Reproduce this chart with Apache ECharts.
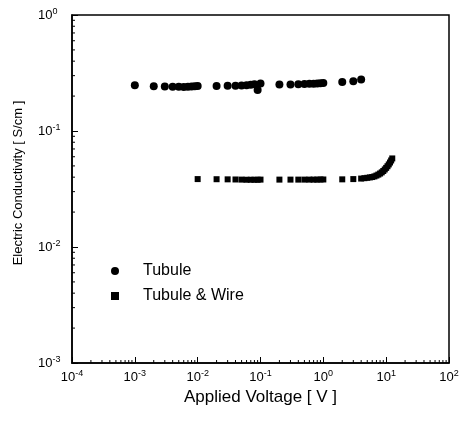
<!DOCTYPE html>
<html>
<head>
<meta charset="utf-8">
<script src="https://cdn.jsdelivr.net/npm/echarts@6/dist/echarts.min.js"></script>
<style>
  html, body { margin: 0; padding: 0; background: #fff; }
  #chart { width: 462px; height: 422px; }
</style>
</head>
<body>
<div id="chart"></div>
<script>
// Tubule (circles)
const tubuleV = [0.001, 0.002, 0.003, 0.004, 0.005, 0.006, 0.007, 0.008, 0.009, 0.01,
  0.02, 0.03, 0.04, 0.05, 0.06, 0.07, 0.08, 0.09, 0.1,
  0.2, 0.3, 0.4, 0.5, 0.6, 0.7, 0.8, 0.9, 1,
  2, 3, 4]
const tubuleC = [0.248, 0.243, 0.242, 0.241, 0.241, 0.240, 0.241, 0.242, 0.243, 0.244,
  0.244, 0.245, 0.246, 0.247, 0.248, 0.250, 0.253, 0.226, 0.257,
  0.252, 0.252, 0.253, 0.254, 0.255, 0.256, 0.257, 0.258, 0.259,
  0.265, 0.268, 0.278]

// Tubule & Wire (squares)
const wireV = [0.01, 0.02, 0.03, 0.04, 0.05, 0.06, 0.07, 0.08, 0.09, 0.1,
  0.2, 0.3, 0.4, 0.5, 0.6, 0.7, 0.8, 0.9, 1,
  2, 3, 4, 4.5, 5, 5.5, 6, 6.5, 7, 7.5, 8, 8.5, 9, 9.5, 10, 10.5, 11, 11.5, 12, 12.5]
const wireC = [0.0385, 0.0384, 0.0383, 0.0382, 0.0381, 0.0380, 0.0380, 0.0380, 0.0380, 0.0381,
  0.0381, 0.0381, 0.0381, 0.0381, 0.0381, 0.0381, 0.0381, 0.0382, 0.0382,
  0.0383, 0.0385, 0.0389, 0.0392, 0.0395, 0.0398, 0.0401, 0.0406, 0.0413, 0.0421, 0.0430,
  0.0440, 0.0452, 0.0466, 0.0481, 0.0497, 0.0515, 0.0535, 0.0557, 0.0580]

const xMin = 1e-4, xMax = 1e2
const yMin = 1e-3, yMax = 1

// minor tick positions 2..9 in each decade
const xMinor = []
for (let d = -4; d < 2; d++) for (let k = 2; k <= 9; k++) xMinor.push(k * Math.pow(10, d))
const yMinor = []
for (let d = -3; d < 0; d++) for (let k = 2; k <= 9; k++) yMinor.push(k * Math.pow(10, d))

const font = 'Liberation Sans, Arial, Helvetica, sans-serif'

const powLabel = v => '{b|10}{s|' + Math.round(Math.log10(v)) + '}'
const powRich = {
  b: { fontSize: 13, fontFamily: font, color: '#000', lineHeight: 16 },
  s: { fontSize: 9, fontFamily: font, color: '#000', verticalAlign: 'top' }
}

const chart = echarts.init(document.getElementById('chart'), null, { renderer: 'canvas' })

chart.setOption({
  animation: false,
  backgroundColor: '#fff',
  grid: {
    left: 72, right: 13, top: 15, bottom: 59,
    show: true, borderColor: '#000', borderWidth: 1.5
  },
  xAxis: {
    type: 'log', logBase: 10, min: xMin, max: xMax,
    name: 'Applied Voltage [ V ]',
    nameLocation: 'middle', nameGap: 19,
    nameTextStyle: { fontSize: 17, fontFamily: font, color: '#000' },
    axisLine: { show: true, onZero: false, lineStyle: { color: '#000', width: 1.5 } },
    axisTick: { show: true, inside: true, length: 6, lineStyle: { color: '#000' } },
    axisLabel: { formatter: powLabel, rich: powRich, margin: 6 },
    splitLine: { show: false }
  },
  yAxis: {
    type: 'log', logBase: 10, min: yMin, max: yMax,
    name: 'Electric Conductivity [ S/cm ]',
    nameLocation: 'middle', nameGap: 47,
    nameTextStyle: { fontSize: 13, fontFamily: font, color: '#000', padding: [0, 0, 0, 12] },
    axisLine: { show: true, onZero: false, lineStyle: { color: '#000', width: 1.5 } },
    axisTick: { show: true, inside: true, length: 6, lineStyle: { color: '#000' } },
    axisLabel: { formatter: powLabel, rich: powRich, margin: 34, align: 'left' },
    splitLine: { show: false }
  },
  legend: {
    orient: 'vertical',
    left: 106, top: 258,
    itemWidth: 8, itemHeight: 8, itemGap: 9,
    textStyle: { fontSize: 16, fontFamily: font, color: '#000', padding: [0, 0, 0, 19] },
    data: [
      { name: 'Tubule', icon: 'circle' },
      { name: 'Tubule & Wire', icon: 'rect' }
    ]
  },
  series: [
    {
      name: 'Tubule', type: 'scatter', symbol: 'circle', symbolSize: 8,
      itemStyle: { color: '#000', opacity: 1 },
      data: tubuleV.map((v, i) => [v, tubuleC[i]])
    },
    {
      name: 'Tubule & Wire', type: 'scatter', symbol: 'rect', symbolSize: 6,
      itemStyle: { color: '#000', opacity: 1 },
      data: wireV.map((v, i) => [v, wireC[i]])
    },
    {
      // minor ticks along the bottom axis
      type: 'custom', silent: true, clip: false,
      renderItem(params, api) {
        const p = api.coord([api.value(0), yMin])
        return { type: 'line', shape: { x1: p[0], y1: p[1], x2: p[0], y2: p[1] - 3 }, style: { stroke: '#000', lineWidth: 1 } }
      },
      data: xMinor.map(v => [v, yMin])
    },
    {
      // minor ticks along the left axis
      type: 'custom', silent: true, clip: false,
      renderItem(params, api) {
        const p = api.coord([xMin, api.value(1)])
        return { type: 'line', shape: { x1: p[0], y1: p[1], x2: p[0] + 3, y2: p[1] }, style: { stroke: '#000', lineWidth: 1 } }
      },
      data: yMinor.map(v => [xMin, v])
    }
  ]
})
</script>
</body>
</html>
